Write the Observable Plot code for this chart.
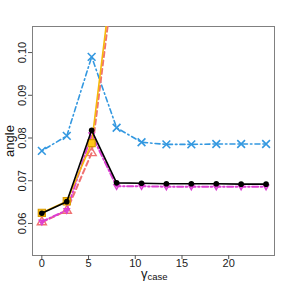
<!DOCTYPE html>
<html><head><meta charset="utf-8">
<script src="https://cdn.jsdelivr.net/npm/d3@7"></script>
<script src="https://cdn.jsdelivr.net/npm/@observablehq/plot@0.6"></script>
<style>body{margin:0;background:#fff;} svg{display:block;}</style>
</head><body><div id="chart"></div>
<script>
const gammaCase = [0, 2.67, 5.33, 8, 10.67, 13.33, 16, 18.67, 21.33, 24];
const seriesBlack   = [0.0624, 0.0651, 0.0818, 0.0695, 0.0694, 0.0693, 0.0693, 0.0693, 0.0692, 0.0692];
const seriesOrange  = [0.0625, 0.0652, 0.0788, 0.126, 0.16, 0.19, 0.21, 0.23, 0.25, 0.27];
const seriesSalmon  = [0.0603, 0.0630, 0.0765, 0.1228, 0.155, 0.185, 0.205, 0.225, 0.245, 0.265];
const seriesMagenta = [0.0604, 0.0631, 0.0808, 0.0687, 0.0687, 0.0686, 0.0686, 0.0686, 0.0686, 0.0686];
const seriesBlue    = [0.0770, 0.0805, 0.0990, 0.0824, 0.0790, 0.0785, 0.0785, 0.0786, 0.0786, 0.0786];
const xTicks = [0, 5, 10, 15, 20];
const yTicks = [0.06, 0.07, 0.08, 0.09, 0.10];

const rows = (vals) => gammaCase.map((x, i) => ({x, y: vals[i]}));
const blue = rows(seriesBlue), magenta = rows(seriesMagenta), salmon = rows(seriesSalmon),
      orange = rows(seriesOrange), black = rows(seriesBlack);

const downTriangle = {
  draw(context, size) {
    const s = Math.sqrt(size / (Math.sqrt(3) * 3 / 4));
    const h = s * Math.sqrt(3) / 2;
    context.moveTo(0, 2 * h / 3);
    context.lineTo(s / 2, -h / 3);
    context.lineTo(-s / 2, -h / 3);
    context.closePath();
  }
};

const C = {blue: "#3398E0", magenta: "#DC3ED2", salmon: "#F07272", orange: "#F6B80A", black: "#000"};

const chart = Plot.plot({
  width: 288, height: 288,
  marginLeft: 32, marginRight: 14, marginTop: 26, marginBottom: 33,
  style: {fontFamily: "'Liberation Sans', Arial, sans-serif", background: "#fff"},
  x: {domain: [-1.0, 24.9]},
  y: {domain: [0.0525, 0.1061]},
  marks: [
    Plot.frame({stroke: "#808080"}),
    Plot.axisX({ticks: xTicks, tickSize: 4, tickPadding: 0, fontSize: 11, label: null, stroke: "#555", color: "#222"}),
    Plot.axisY({ticks: yTicks, tickSize: 4, tickFormat: () => "", label: null, stroke: "#555"}),
    Plot.text(yTicks, {y: d => d, text: d => d3.format(".2f")(d), frameAnchor: "left", dx: -6.5, rotate: -90, textAnchor: "middle", lineAnchor: "bottom", fontSize: 11, fill: "#222"}),
    Plot.text(["angle"], {frameAnchor: "left", dx: -18.5, rotate: -90, textAnchor: "middle", lineAnchor: "bottom", fontSize: 13, fill: "#111"}),
    Plot.text(["γ"], {frameAnchor: "bottom", dx: -12.5, dy: 22, textAnchor: "start", lineAnchor: "bottom", fontSize: 13, fill: "#111"}),
    Plot.text(["case"], {frameAnchor: "bottom", dx: -6, dy: 24, textAnchor: "start", lineAnchor: "bottom", fontSize: 9.5, fill: "#111"}),

    Plot.line(blue, {x: "x", y: "y", stroke: C.blue, strokeWidth: 1.6, strokeDasharray: "1.5,3,5,3", clip: true}),
    Plot.dot(blue, {x: "x", y: "y", symbol: "times", r: 3.6, stroke: C.blue, strokeWidth: 1.6, clip: true}),

    Plot.line(salmon, {x: "x", y: "y", stroke: C.salmon, strokeWidth: 2, strokeDasharray: "5,3.5", clip: true}),
    Plot.dot(salmon, {x: "x", y: "y", symbol: "triangle", r: 3.4, stroke: C.salmon, strokeWidth: 1.4, clip: true}),

    Plot.line(magenta, {x: "x", y: "y", stroke: C.magenta, strokeWidth: 2, strokeDasharray: "6,2.5,1.5,2.5", clip: true}),
    Plot.dot(magenta, {x: "x", y: "y", symbol: downTriangle, r: 3.4, stroke: C.magenta, strokeWidth: 1.4, clip: true}),

    Plot.line(orange, {x: "x", y: "y", stroke: C.orange, strokeWidth: 1.6, clip: true}),
    Plot.dot(orange, {x: "x", y: "y", symbol: "square", r: 4, fill: "#FFC81A", stroke: "#D99A00", strokeWidth: 1.2, clip: true}),

    Plot.line(black, {x: "x", y: "y", stroke: C.black, strokeWidth: 1.6, clip: true}),
    Plot.dot(black, {x: "x", y: "y", r: 2.8, fill: C.black, clip: true})
  ]
});
document.getElementById("chart").append(chart);
</script>
</body></html>
